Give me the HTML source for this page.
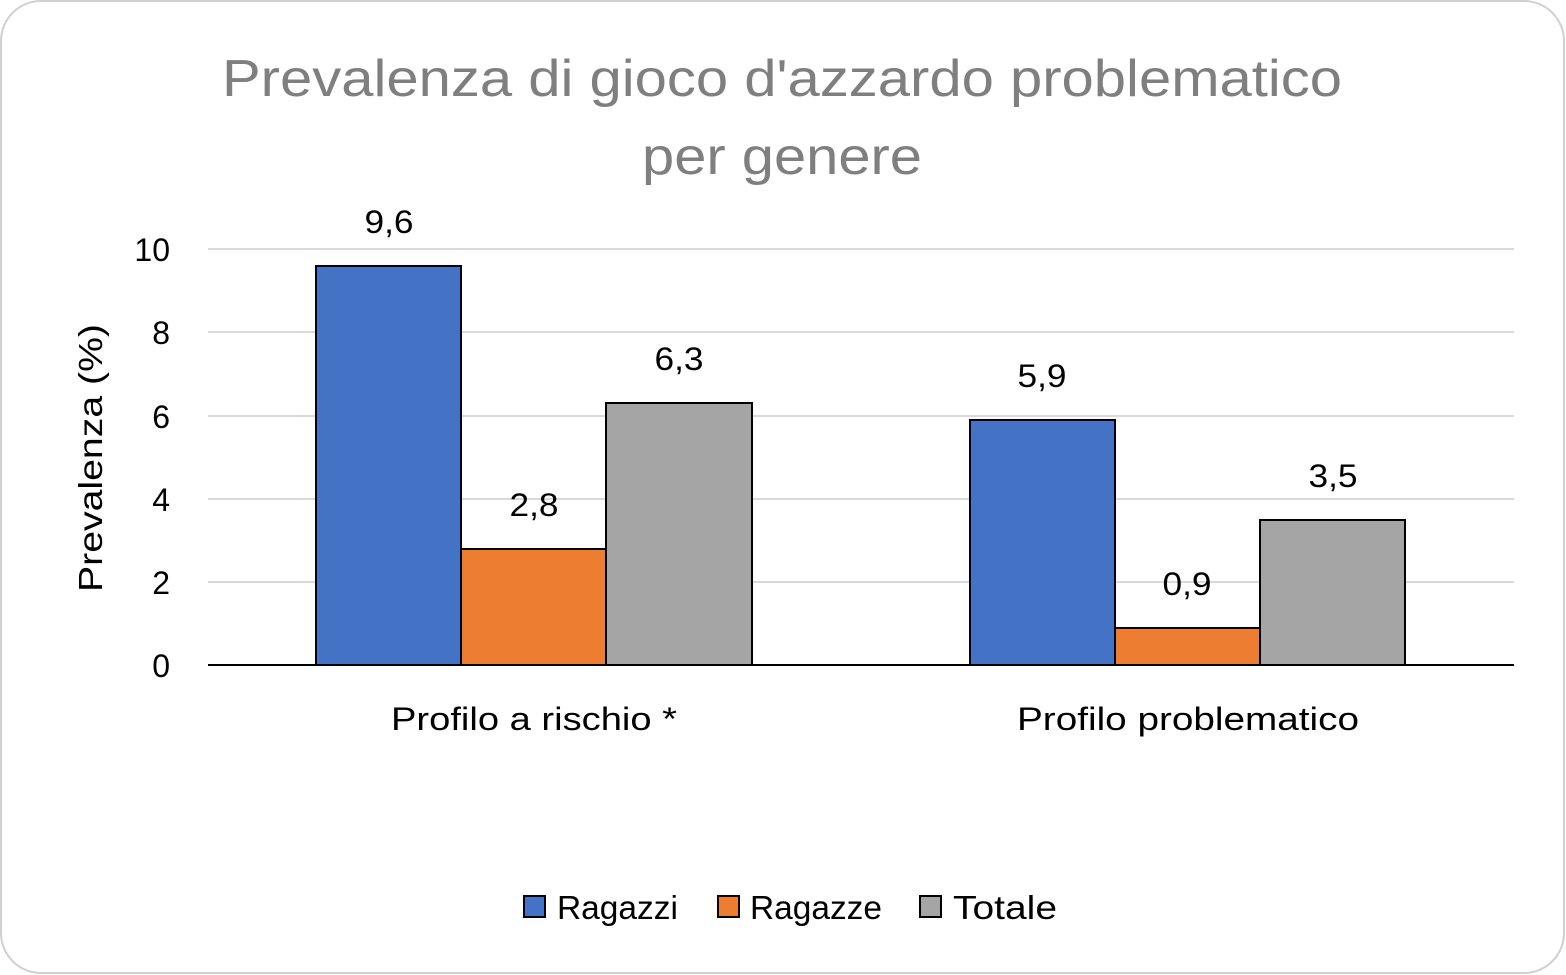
<!DOCTYPE html>
<html><head><meta charset="utf-8"><style>html,body{margin:0;padding:0;background:#fff}svg{display:block}</style></head>
<body>
<svg width="1566" height="975" xmlns="http://www.w3.org/2000/svg" font-family="'Liberation Sans', sans-serif">
<rect x="1" y="1" width="1563" height="972" rx="40" ry="40" fill="#fff" stroke="#d0d0d0" stroke-width="2"/>
<text x="782" y="96" text-anchor="middle" font-size="52" fill="#7f7f7f" textLength="1120" lengthAdjust="spacingAndGlyphs">Prevalenza di gioco d'azzardo problematico</text>
<text x="782" y="174" text-anchor="middle" font-size="52" fill="#7f7f7f" textLength="280" lengthAdjust="spacingAndGlyphs">per genere</text>
<g stroke="#d9d9d9" stroke-width="2">
<line x1="208" y1="249" x2="1514" y2="249"/><line x1="208" y1="332" x2="1514" y2="332"/><line x1="208" y1="416" x2="1514" y2="416"/><line x1="208" y1="499" x2="1514" y2="499"/><line x1="208" y1="582" x2="1514" y2="582"/>
</g>
<g font-size="32" fill="#000" text-anchor="end">
<text x="170" y="261">10</text><text x="170" y="344">8</text><text x="170" y="428">6</text><text x="170" y="511">4</text><text x="170" y="594">2</text><text x="170" y="677">0</text>
</g>
<text transform="translate(102,458) rotate(-90)" text-anchor="middle" font-size="33" textLength="268" lengthAdjust="spacingAndGlyphs">Prevalenza (%)</text>
<g stroke="#000" stroke-width="2">
<rect x="316" y="266" width="145" height="399" fill="#4472c4"/>
<rect x="461" y="549" width="145" height="116" fill="#ed7d31"/>
<rect x="606" y="403" width="146" height="262" fill="#a5a5a5"/>
<rect x="970" y="420" width="145" height="245" fill="#4472c4"/>
<rect x="1115" y="628" width="145" height="37" fill="#ed7d31"/>
<rect x="1260" y="520" width="145" height="145" fill="#a5a5a5"/>
</g>
<line x1="208" y1="665" x2="1514" y2="665" stroke="#000" stroke-width="2"/>
<g font-size="32" text-anchor="middle">
<text x="389" y="233" textLength="49" lengthAdjust="spacingAndGlyphs">9,6</text><text x="534" y="516" textLength="49" lengthAdjust="spacingAndGlyphs">2,8</text><text x="679" y="370" textLength="49" lengthAdjust="spacingAndGlyphs">6,3</text>
<text x="1042" y="387" textLength="49" lengthAdjust="spacingAndGlyphs">5,9</text><text x="1187" y="595" textLength="49" lengthAdjust="spacingAndGlyphs">0,9</text><text x="1333" y="487" textLength="49" lengthAdjust="spacingAndGlyphs">3,5</text>
</g>
<g font-size="32" text-anchor="middle">
<text x="534" y="730" textLength="286" lengthAdjust="spacingAndGlyphs">Profilo a rischio *</text>
<text x="1188" y="730" textLength="342" lengthAdjust="spacingAndGlyphs">Profilo problematico</text>
</g>
<g stroke="#000" stroke-width="2">
<rect x="524" y="896" width="21" height="21" fill="#4472c4"/>
<rect x="718" y="896" width="21" height="21" fill="#ed7d31"/>
<rect x="920" y="896" width="21" height="21" fill="#a5a5a5"/>
</g>
<g font-size="33">
<text x="557" y="919" textLength="121" lengthAdjust="spacingAndGlyphs">Ragazzi</text>
<text x="750" y="919" textLength="132" lengthAdjust="spacingAndGlyphs">Ragazze</text>
<text x="953" y="919" textLength="104" lengthAdjust="spacingAndGlyphs">Totale</text>
</g>
</svg>
</body></html>
